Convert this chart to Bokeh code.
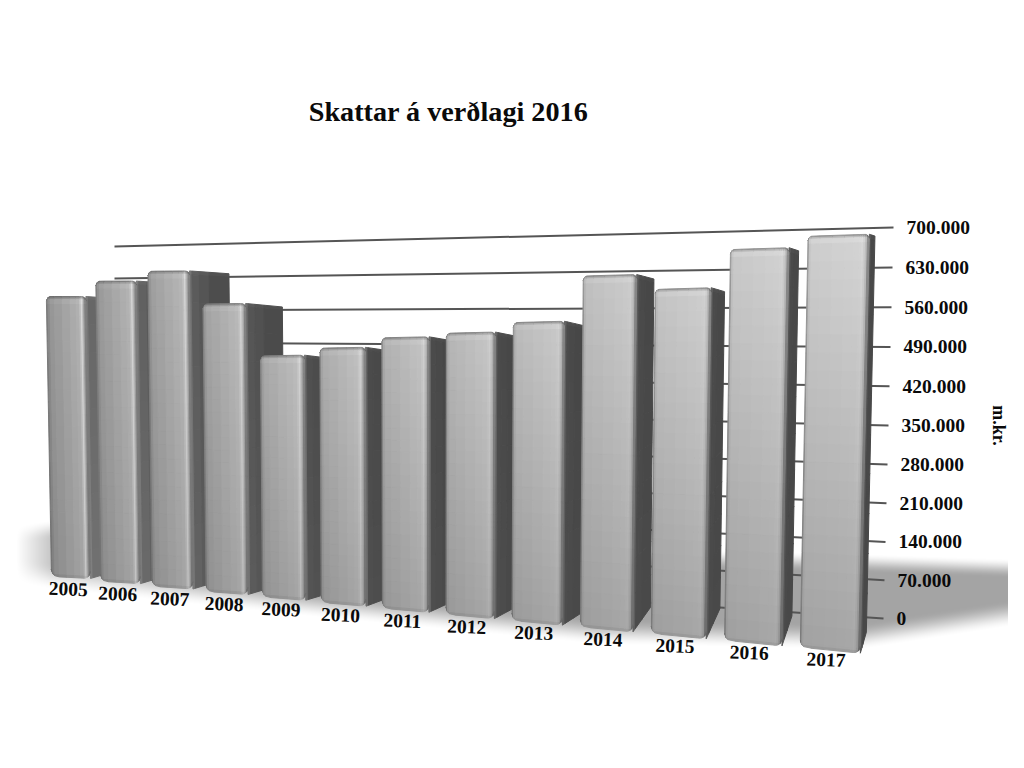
import math
import numpy as np
from bokeh.plotting import figure
from bokeh.models import ColumnDataSource, Range1d
from bokeh.core.properties import value
from bokeh.embed import file_html
from bokeh.resources import INLINE

# ---- data ----
years = [2005, 2006, 2007, 2008, 2009, 2010, 2011, 2012, 2013, 2014, 2015, 2016, 2017]
values = [560000, 589000, 607000, 544000, 448000, 464500, 485500, 496000, 517000, 599000, 578000, 646000, 669000]
tick_values = [0, 70000, 140000, 210000, 280000, 350000, 420000, 490000, 560000, 630000, 700000]
tick_labels = ["0", "70.000", "140.000", "210.000", "280.000", "350.000", "420.000", "490.000", "560.000", "630.000", "700.000"]
title_text = "Skattar á verðlagi 2016"
unit_text = "m.kr."

FONT = "Liberation Serif"

# ---- projection of the 3D scene ----
def rate(x):            # lean of vertical edges
    return (x - 420) * 5e-5
def bar_left(i):
    return 51 + 47.9 * i + 1.208 * i * i
def bar_width(i):
    return 39 + 0.75 * i + 0.084 * i * i
def bar_base(i):
    return 576 + 4.706 * i + 0.0988 * i * i
def bar_height(i, v):
    return v / 70000 * (35 + i * 8 / 12)
def wall_right(v):
    u = v / 70000
    return 618 - u * (38.1 + 0.1 * u)
def wall_left(v):
    return 246 + (700000 - v) / 70000 * 32

def hexg(g):
    g = int(max(0, min(255, round(g))))
    return "#%02x%02x%02x" % (g, g, g)

xs, ys, cols = [], [], []
def quad(pts, g):
    xs.append([p[0] for p in pts]); ys.append([p[1] for p in pts]); cols.append(hexg(g))

def round_off(dist, r):
    if dist >= r:
        return 0.0
    return r - math.sqrt(max(0, r * r - (r - dist) ** 2))

for i, v in enumerate(values):
    k = i / 12
    xl, w, base, h = bar_left(i), bar_width(i), bar_base(i), bar_height(i, v)
    tilt_top = 2 * k
    tilt_bot = 2 + 4 * k
    xr = xl + w

    # side face
    xrt = xr + rate(xr) * h
    wt = 0.05 * (980 - xrt)
    wb = 0.05 * (980 - xr)
    sink = wt * np.interp(xrt, [186, 800], [0.07, 0.33])
    rise = wb * np.interp(xr, [90, 305, 560, 780, 860], [0.3, 0.3, 0.62, 3.0, 3.5])
    ytr, ybr = base - h - tilt_top, base + tilt_bot
    def S(t, f):
        xt, xb = xrt + t * wt, xr + t * wb
        yt, yb = ytr + sink * t, ybr - rise * t
        return (xt + (xb - xt) * f, yt + (yb - yt) * f)
    ts = sorted(set(min(1, a) for a in [0, 2.5 / max(wb, 3.01), 0.25, 0.5, 1.0]))
    fs = [0, 0.012] + [j / 10 for j in range(1, 11)]
    for a, b in zip(ts[:-1], ts[1:]):
        for c, d in zip(fs[:-1], fs[1:]):
            tm = (a + b) / 2
            g0 = np.interp(k, [0, 0.4, 1], [0x6c, 0x4c, 0x4c])
            g1 = np.interp(k, [0, 0.4, 1], [0x52, 0x46, 0x48])
            g = g0 + (g1 - g0) * min(1, tm * 1.5)
            if a * wb < 2.5:
                g = np.interp(k, [0, 1], [0x74, 0x52])
            if d <= 0.012:
                g = g * 1.06
            quad([S(a, c), S(b, c), S(b, d), S(a, d)], g * (1.0 + 0.1 * (c + d) / 2 * (1 - k)))

    # front face
    def F(t, d):
        dist = min(t, 1 - t) * w
        d = max(d, round_off(dist, 4.5))
        d = min(d, h - round_off(dist, 7))
        yt = base - h - tilt_top * t
        yb = base + tilt_bot * t
        y = yt + (yb - yt) * d / h
        xb0 = xl + t * w
        x = xb0 + rate(xb0) * (h - d)
        return (x, y)
    tcols = [0, 1.5 / w, 3.5 / w, 0.2, 0.4, 0.6, 0.75, 0.84, 0.88, 0.91, 0.94, 0.97, 1.0]
    drows = [0, 1.5, 3, 5, 8] + [8 + (h - 12) * j / 22 for j in range(1, 23)] + [h - 2, h]
    L = 146 + k * 60
    R = 178 + k * 34
    H = max(R + 4, 220 - k * 20)
    for a, b in zip(tcols[:-1], tcols[1:]):
        for c, d in zip(drows[:-1], drows[1:]):
            tm, dm = (a + b) / 2, (c + d) / 2
            if tm * w < 1.5:
                g = 0x7c + 0x20 * k
            elif tm * w < 3.5:
                g = L - 6
            elif tm < 0.84:
                g = L + (R - L) * tm / 0.84
            else:
                g = np.interp(tm, [0.84, 0.90, 0.95, 1.0], [R, H, R - 14, 0x70])
            frac = dm / h
            m = 1.0 + (0.92 - 0.14 * k - 1.0) * frac
            if dm < 1.5:
                m *= 0.72
            elif dm < 3:
                m *= 0.9
            elif dm < 8:
                m *= 1.03
            if h - dm < 2:
                m *= 0.94
            quad([F(a, c), F(b, c), F(b, d), F(a, d)], g * m)

# ---- figure ----
p = figure(width=1008, height=752, output_backend="svg", toolbar_location=None,
           x_range=Range1d(0, 1008), y_range=Range1d(752, 0), min_border=0)
p.xaxis.visible = False
p.yaxis.visible = False
p.grid.visible = False
p.outline_line_color = None

# floor shadow
X0, X1, Y0, Y1 = 0, 1009, 500, 680
px = np.arange(X0, X1)
py = np.arange(Y0, Y1)
T = np.interp(px, [15, 50, 700, 860, 1008], [522, 518, 548, 552, 557])
B = np.interp(px, [15, 50, 300, 600, 860, 1008], [585, 590, 616, 645, 650, 627])
def sstep(a):
    a = np.clip(a, 0, 1)
    return a * a * (3 - 2 * a)
yy, xxi = np.meshgrid(py, np.arange(px.size), indexing="ij")
soft_left = np.interp(px, [15, 50, 300], [0.0, 0.62, 1.0])
alpha = sstep((yy - T[xxi]) / 20) * sstep((B[xxi] - yy) / 28) * soft_left[xxi]
alpha = alpha * 0.36
img = np.zeros((py.size, px.size), dtype=np.uint32)
view = img.view(dtype=np.uint8).reshape((py.size, px.size, 4))
view[..., 3] = (alpha * 255).astype(np.uint8)
p.image_rgba(image=[img], x=X0, y=Y0, dw=X1 - X0, dh=Y1 - Y0)

# wall lines
for v in tick_values:
    u = v / 700000
    p.line([114, 883 + 10 * u], [wall_left(v), wall_right(v)], line_color="#555555", line_width=2)

# bars
src = ColumnDataSource(dict(xs=xs, ys=ys, c=cols))
p.patches("xs", "ys", source=src, fill_color="c", line_color="c", line_width=1)

# tick labels
tx = [896 + 10 * v / 700000 for v in tick_values]
ty = [wall_right(v) for v in tick_values]
p.text(tx, ty, text=tick_labels, text_font=value(FONT), text_font_style="bold",
       text_font_size="19.5px", text_color="#0a0a0a", text_align="left", text_baseline="middle")

# year labels
yx = [bar_left(i) + bar_width(i) * 0.43 for i in range(len(years))]
yy2 = [bar_base(i) + 12.5 for i in range(len(years))]
p.text(yx, yy2, text=[str(y) for y in years], text_font=value(FONT), text_font_style="bold",
       text_font_size="19.5px", text_color="#0a0a0a", text_align="center", text_baseline="middle",
       angle=-0.04)

p.text([448], [111], text=[title_text], text_font=value(FONT), text_font_style="bold",
       text_font_size="28.2px", text_color="#0a0a0a", text_align="center", text_baseline="middle")
p.text([998], [425], text=[unit_text], text_font=value(FONT), text_font_style="bold",
       text_font_size="18px", text_color="#0a0a0a", text_align="center", text_baseline="middle",
       angle=-math.pi / 2)

open("out.html", "w").write(file_html(p, INLINE))
